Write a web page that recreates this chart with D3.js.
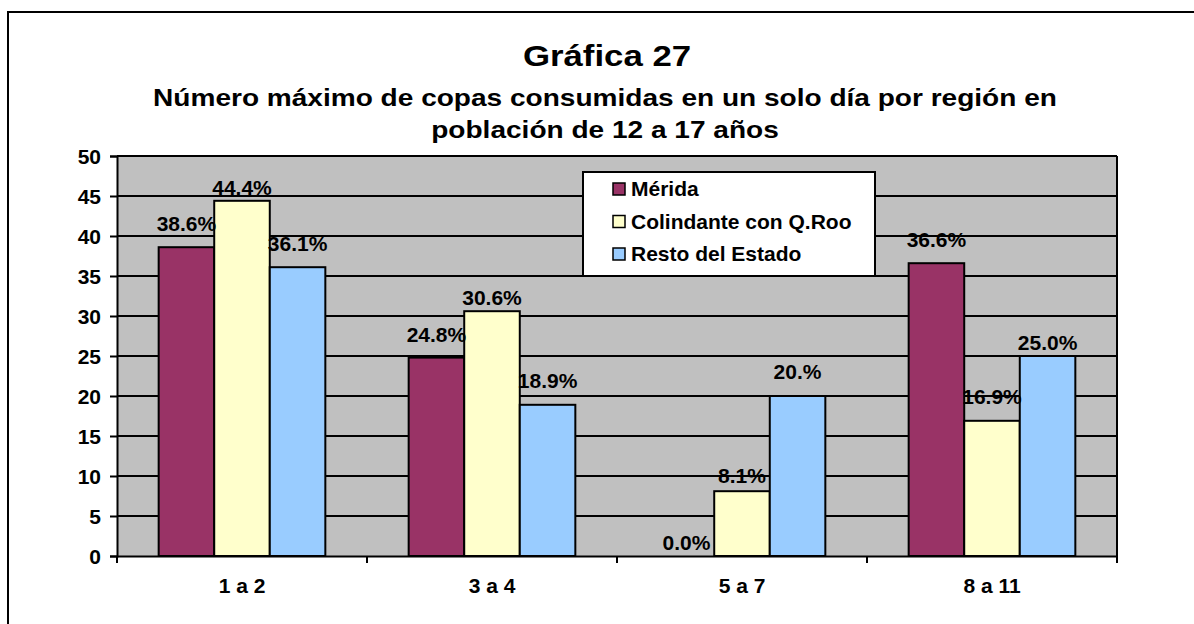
<!DOCTYPE html>
<html>
<head>
<meta charset="utf-8">
<script src="https://cdn.jsdelivr.net/npm/d3@7"></script>
<style>
  html, body { margin: 0; padding: 0; background: #ffffff; }
  svg { display: block; }
  text { font-family: "Liberation Sans", Arial, sans-serif; font-weight: bold; fill: #000; }
</style>
</head>
<body>
<svg id="chart" width="1194" height="624"></svg>
<script>
// ---- data ----
const categories = ["1 a 2", "3 a 4", "5 a 7", "8 a 11"];
const seriesNames = ["Mérida", "Colindante con Q.Roo", "Resto del Estado"];
const merida = [38.6, 24.8, 0.0, 36.6];
const colindante = [44.4, 30.6, 8.1, 16.9];
const resto = [36.1, 18.9, 20.0, 25.0];
const meridaLabels = ["38.6%", "24.8%", "0.0%", "36.6%"];
const colindanteLabels = ["44.4%", "30.6%", "8.1%", "16.9%"];
const restoLabels = ["36.1%", "18.9%", "20.%", "25.0%"];
const yTicks = [0, 5, 10, 15, 20, 25, 30, 35, 40, 45, 50];
const titleText = "Gráfica 27";
const subtitleLines = ["Número máximo de copas consumidas en un solo día por región en",
                       "población de 12 a 17 años"];

// ---- styles ----
const colors = ["#993366", "#FFFFCC", "#99CCFF"];
// label gap above bar top (px), per series per category (style only)
const labelGap = [[16, 16, 6, 16], [6, 6, 8, 17], [16, 17, 17, 6]];

const series = [
  { name: seriesNames[0], values: merida, labels: meridaLabels },
  { name: seriesNames[1], values: colindante, labels: colindanteLabels },
  { name: seriesNames[2], values: resto, labels: restoLabels }
];

const svg = d3.select("#chart");
const plot = { left: 117, right: 1117, top: 156, bottom: 556 };

// outer frame (extends past the window, as in reference)
svg.append("rect").attr("x", 8).attr("y", 12).attr("width", 1198).attr("height", 640)
  .attr("fill", "#fff").attr("stroke", "#000").attr("stroke-width", 2);

// titles
svg.append("text").attr("transform", "translate(607,66) scale(1.2,1)")
  .attr("text-anchor", "middle").style("font-size", "29px").text(titleText);
const subY = [106, 138];
subtitleLines.forEach((s, i) => {
  svg.append("text").attr("transform", `translate(605,${subY[i]}) scale(1.22,1)`)
    .attr("text-anchor", "middle").style("font-size", "23px").text(s);
});

// scales
const x0 = d3.scaleBand().domain(categories).range([plot.left, plot.right]).paddingInner(0).paddingOuter(0);
const x1 = d3.scaleBand().domain(d3.range(series.length)).range([0, x0.bandwidth()])
  .paddingInner(0).paddingOuter(0.75);
const y = d3.scaleLinear().domain([0, 50]).range([plot.bottom, plot.top]);

// plot background
svg.append("rect").attr("x", plot.left).attr("y", plot.top)
  .attr("width", plot.right - plot.left).attr("height", plot.bottom - plot.top)
  .attr("fill", "#C0C0C0");

// gridlines
svg.append("g").selectAll("line").data(yTicks.filter(t => t > 0)).join("line")
  .attr("x1", plot.left).attr("x2", plot.right)
  .attr("y1", d => y(d)).attr("y2", d => y(d))
  .attr("stroke", "#000").attr("stroke-width", 2);

// right border
svg.append("line").attr("x1", plot.right).attr("x2", plot.right)
  .attr("y1", plot.top).attr("y2", plot.bottom).attr("stroke", "#000").attr("stroke-width", 2);

// bars
series.forEach((s, si) => {
  svg.append("g").selectAll("rect").data(s.values).join("rect")
    .attr("x", (d, i) => x0(categories[i]) + x1(si))
    .attr("y", d => y(d))
    .attr("width", x1.bandwidth())
    .attr("height", d => y(0) - y(d))
    .attr("fill", colors[si])
    .attr("stroke", "#000").attr("stroke-width", 2);
});

// data labels
series.forEach((s, si) => {
  svg.append("g").selectAll("text").data(s.values).join("text")
    .attr("x", (d, i) => x0(categories[i]) + x1(si) + x1.bandwidth() / 2)
    .attr("y", (d, i) => y(d) - labelGap[si][i])
    .attr("text-anchor", "middle").style("font-size", "21px")
    .text((d, i) => s.labels[i]);
});

// y axis
const yAxis = d3.axisLeft(y).tickValues(yTicks).tickSize(7).tickPadding(9).tickFormat(d3.format("d"));
const gy = svg.append("g").attr("transform", `translate(${plot.left},0)`).call(yAxis);
gy.select(".domain").attr("stroke", "#000").attr("stroke-width", 2);
gy.selectAll(".tick line").attr("stroke", "#000").attr("stroke-width", 2);
gy.selectAll(".tick text").style("font-size", "21px").attr("font-family", null).attr("dy", "0.36em");

// x axis
const xAxis = d3.axisBottom(x0).tickSize(0).tickPadding(22);
const gx = svg.append("g").attr("transform", `translate(0,${plot.bottom})`).call(xAxis);
gx.select(".domain").attr("stroke", "#000").attr("stroke-width", 2);
gx.selectAll(".tick text").style("font-size", "21px").attr("font-family", null);
// category boundary tick marks
const bounds = categories.map(c => x0(c)).concat([plot.right]);
gx.append("g").selectAll("line").data(bounds).join("line")
  .attr("x1", d => d).attr("x2", d => d).attr("y1", 0).attr("y2", 7)
  .attr("stroke", "#000").attr("stroke-width", 2);

// legend
const lg = svg.append("g");
lg.append("rect").attr("x", 583).attr("y", 172).attr("width", 292).attr("height", 104)
  .attr("fill", "#fff").attr("stroke", "#000").attr("stroke-width", 2);
seriesNames.forEach((n, i) => {
  lg.append("rect").attr("x", 613).attr("y", 183 + i * 32.5).attr("width", 12).attr("height", 12)
    .attr("fill", colors[i]).attr("stroke", "#000").attr("stroke-width", 1.5);
  lg.append("text").attr("x", 631).attr("y", 196 + i * 32.5)
    .style("font-size", "21px").text(n);
});
</script>
</body>
</html>
